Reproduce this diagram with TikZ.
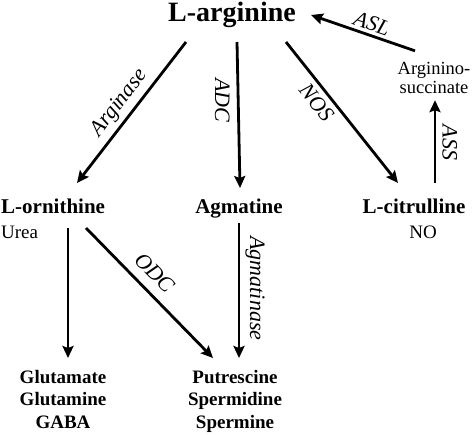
\documentclass[tikz,border=0pt]{standalone}
\usepackage{fontspec}
\setmainfont{Liberation Serif}
\usepackage{xcolor}
\usetikzlibrary{positioning, arrows.meta}
\definecolor{InkBlack}{HTML}{000000}

\begin{document}
\begin{tikzpicture}[x=1pt, y=-1pt,
    chem/.style={inner sep=0pt, font=\bfseries\fontsize{21}{24}\selectfont},
    side/.style={inner sep=0pt, font=\fontsize{19}{19}\selectfont},
    prod/.style={inner sep=0pt, align=center, font=\bfseries\fontsize{19}{22.5}\selectfont},
    enz/.style={inner sep=1pt, font=\itshape\fontsize{22}{24}\selectfont},
    pathway/.style={InkBlack, line width=2.8pt, -{Stealth[length=12pt, width=11pt, inset=2pt]}}]
      \useasboundingbox (0,0) rectangle (474,434);
      \fill[white] (0,0) rectangle (474,434);
      % Metabolites
      \node[chem, anchor=base, font=\bfseries\fontsize{28}{32}\selectfont] (larg) at (232,21) {L-arginine};
      \node[chem, anchor=base west] (lorn) at (1,213) {L-ornithine};
      \node[chem, anchor=base] (agm) at (239,213) {Agmatine};
      \node[chem, anchor=base] (lcit) at (414,213) {L-citrulline};
      \node[side, anchor=base west] (urea) at (1,238) {Urea};
      \node[side, anchor=base] (no) at (423,238) {NO};
      \node[side, align=center, font=\fontsize{18.5}{19.5}\selectfont] (asuc) at (434,78) {Arginino-\\succinate};
      \node[prod, anchor=north] (glu) at (63,370) {Glutamate\\Glutamine\\GABA};
      \node[prod, anchor=north] (put) at (235,370) {Putrescine\\Spermidine\\Spermine};
      % Arrows
      \draw[pathway] ([shift={(-46,21)}]larg.base) -- ([shift={(76,-30)}]lorn.base west)
        node[enz, pos=0.5, sloped, above=3pt] {Arginase};
      \draw[pathway] ([shift={(5,21)}]larg.base) -- ([shift={(1,-25)}]agm.base)
        node[enz, pos=0.4, rotate=-90, left=6pt, anchor=north] {ADC};
      \draw[pathway] ([shift={(54,21)}]larg.base) -- ([shift={(-16,-30)}]lcit.base)
        node[enz, pos=0.37, sloped, below=4pt] {NOS};
      \draw[pathway] ([shift={(21,-30)}]lcit.base) -- ([shift={(1,6)}]asuc.south)
        node[enz, pos=0.49, rotate=-90, right=5pt, anchor=south] {ASS};
      \draw[pathway] ([shift={(-19,-11)}]asuc.north) -- ([shift={(79,-6)}]larg.base)
        node[enz, pos=0.45, sloped, above=2pt] {ASL};
      \draw[pathway] ([shift={(67,15)}]lorn.base west) -- ([shift={(5,-12)}]glu.north);
      \draw[pathway] ([shift={(85,15)}]lorn.base west) -- ([shift={(-22,-12)}]put.north)
        node[enz, pos=0.44, sloped, above=8pt] {ODC};
      \draw[pathway] ([shift={(0,10)}]agm.base) -- ([shift={(4,-12)}]put.north)
        node[enz, pos=0.485, rotate=-90, right=4pt, anchor=south] {Agmatinase};
    \end{tikzpicture}
\end{document}
